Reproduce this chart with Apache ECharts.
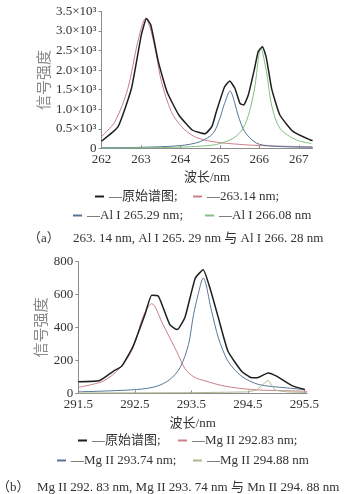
<!DOCTYPE html>
<html><head><meta charset="utf-8">
<script src="https://cdn.jsdelivr.net/npm/echarts@6/dist/echarts.min.js"></script>
<style>html,body{margin:0;padding:0;background:#fff}#c{width:355px;height:494px}</style>
</head><body><div id="c"></div>
<script>
// ---- (a) Al region ----
const xTicksA = [262, 263, 264, 265, 266, 267];
const yLabelsA = ['0', '0.5×10³', '1.0×10³', '1.5×10³', '2.0×10³', '2.5×10³', '3.0×10³', '3.5×10³'];
const namesA = ['原始谱图', '263.14 nm', 'Al I 265.29 nm', 'Al I 266.08 nm'];
const blackAx = [262.0, 262.42, 262.76, 263.01, 263.14, 263.25, 263.44, 263.66, 263.96, 264.3, 264.62, 264.8, 264.91, 265.12, 265.25, 265.38, 265.51, 265.6, 265.72, 265.88, 265.97, 266.08, 266.18, 266.31, 266.52, 266.86, 267.29, 267.35];
const blackAy = [180, 553, 1535, 2900, 3320, 3155, 2216, 1448, 852, 468, 370, 560, 936, 1576, 1720, 1535, 1151, 1108, 1364, 2047, 2472, 2600, 2303, 1535, 852, 425, 212, 200];
const redAx = [262.0, 262.34, 262.67, 262.92, 263.12, 263.26, 263.39, 263.52, 263.77, 264.03, 264.36, 264.83, 265.5, 266.0, 266.5, 267.0, 267.35];
const redAy = [300, 680, 1535, 2728, 3330, 2983, 2387, 1704, 936, 553, 297, 169, 100, 70, 55, 45, 40];
const blueAx = [262.0, 263.0, 264.0, 264.5, 264.83, 265.0, 265.12, 265.26, 265.38, 265.46, 265.63, 265.93, 266.3, 266.8, 267.35];
const blueAy = [15, 25, 70, 170, 385, 770, 1150, 1466, 1150, 850, 425, 130, 60, 35, 25];
const greenAx = [262.0, 263.0, 264.0, 264.5, 264.92, 265.34, 265.59, 265.75, 265.88, 266.04, 266.18, 266.31, 266.52, 266.94, 267.32];
const greenAy = [5, 12, 30, 55, 100, 256, 512, 936, 1535, 2558, 1960, 1108, 512, 212, 125];
const captionA = '263. 14 nm, Al I 265. 29 nm 与 Al I 266. 28 nm';

// ---- (b) Mg region ----
const xTicksB = [291.5, 292.5, 293.5, 294.5, 295.5];
const xLabelsB = ['291.5', '292.5', '293.5', '294.5', '295.5'];
const yLabelsB = ['0', '200', '400', '600', '800'];
const namesB = ['原始谱图', 'Mg II 292.83 nm', 'Mg II 293.74 nm', 'Mg II 294.88 nm'];
const blackBx = [291.5, 291.88, 292.12, 292.27, 292.47, 292.68, 292.8, 292.92, 293.12, 293.25, 293.39, 293.57, 293.71, 293.83, 293.98, 294.15, 294.39, 294.54, 294.66, 294.86, 295.01, 295.28, 295.51];
const blackBy = [71, 79, 135, 166, 287, 479, 596, 590, 418, 388, 465, 700, 751, 640, 459, 256, 135, 99, 95, 125, 105, 48, 24];
const redBx = [291.5, 291.94, 292.24, 292.47, 292.65, 292.8, 293.0, 293.24, 293.39, 293.55, 293.74, 294.1, 294.57, 295.0, 295.55];
const redBy = [38, 75, 156, 277, 470, 545, 418, 256, 150, 100, 77, 44, 24, 18, 14];
const blueBx = [291.5, 292.53, 292.89, 293.12, 293.3, 293.45, 293.54, 293.62, 293.71, 293.86, 293.98, 294.15, 294.39, 294.69, 295.16, 295.51];
const blueBy = [10, 24, 44, 85, 156, 297, 479, 600, 701, 499, 338, 196, 105, 55, 35, 24];
const greenBx = [291.5, 293.5, 294.5, 294.66, 294.86, 294.98, 295.2, 295.55];
const greenBy = [3, 5, 10, 22, 80, 22, 10, 6];
const captionB = 'Mg II 292. 83 nm, Mg II 293. 74 nm 与 Mn II 294. 88 nm';

const zip = (xs, ys) => xs.map((x, i) => [x, ys[i]]);
const FONT = "'Liberation Serif','Noto Sans CJK SC',serif";
const C = {black: '#1e1e1e', red: '#c97f88', blue: '#56769a', greenA: '#82bf82', greenB: '#a9b98f'};

function axisCommonX(gi, min, max, ticks, fmt, gap) {
  return {
    type: 'value', gridIndex: gi, min: min, max: max,
    name: '波长/nm', nameLocation: 'middle', nameGap: gap, nameMoveOverlap: false,
    nameTextStyle: {fontSize: 13, color: '#333', fontFamily: FONT},
    axisLine: {lineStyle: {color: '#8c8c8c', width: 1}},
    axisTick: {inside: true, length: 3, customValues: ticks, lineStyle: {color: '#8c8c8c'}},
    axisLabel: {customValues: ticks, formatter: fmt, margin: 5, fontSize: 13, color: '#333', fontFamily: FONT},
    splitLine: {show: false}
  };
}
function axisCommonY(gi, max, interval, labels, gap) {
  return {
    type: 'value', gridIndex: gi, min: 0, max: max, interval: interval,
    name: '信号强度', nameLocation: 'middle', nameRotate: 90, nameGap: gap, nameMoveOverlap: false,
    nameTextStyle: {fontSize: 15, color: '#8a8a8a', fontFamily: FONT},
    axisLine: {show: true, lineStyle: {color: '#8c8c8c', width: 1}},
    axisTick: {show: true, length: 3, lineStyle: {color: '#8c8c8c'}},
    axisLabel: {formatter: (v, i) => labels[Math.round(v / interval)], margin: 5, fontSize: 13, color: '#333', fontFamily: FONT},
    splitLine: {show: false}
  };
}
function line(name, xi, xs, ys, color, w, smooth, z) {
  return {type: 'line', name: name, xAxisIndex: xi, yAxisIndex: xi, data: zip(xs, ys),
    showSymbol: false, symbol: 'none', smooth: smooth, z: z,
    lineStyle: {color: color, width: w}, itemStyle: {color: color}};
}
function leg(name, left, cy, semi) {
  return {data: [name], left: left, top: cy - 7, padding: 0, icon: 'rect', itemWidth: 9, itemHeight: 2,
    selectedMode: false, formatter: '—{name}' + (semi ? ';' : ''),
    textStyle: {fontSize: 13, color: '#333', fontFamily: FONT}};
}

const option = {
  animation: false,
  textStyle: {fontFamily: FONT},
  grid: [
    {left: 101.5, top: 11.5, width: 211.1, height: 136.8},
    {left: 78.3, top: 261.7, width: 228.8, height: 131.8}
  ],
  xAxis: [
    axisCommonX(0, 262, 267.35, xTicksA, v => String(v), 23),
    axisCommonX(1, 291.5, 295.55, xTicksB, v => xLabelsB[xTicksB.indexOf(v)] || '', 24)
  ],
  yAxis: [
    axisCommonY(0, 3500, 500, yLabelsA, 49),
    axisCommonY(1, 800, 200, yLabelsB, 29)
  ],
  legend: [
    leg(namesA[0], 95, 197, true), leg(namesA[1], 193, 197, true),
    leg(namesA[2], 73, 216, true), leg(namesA[3], 205, 216, false),
    leg(namesB[0], 78, 441, true), leg(namesB[1], 178, 441, true),
    leg(namesB[2], 57, 461, true), leg(namesB[3], 193, 461, false)
  ],
  title: [
    {text: '（a）', left: 28, top: 232, padding: 0, textStyle: {fontSize: 13, fontWeight: 'normal', color: '#333', fontFamily: FONT}},
    {text: captionA, left: 73, top: 232, padding: 0, textStyle: {fontSize: 13, fontWeight: 'normal', color: '#333', fontFamily: FONT}},
    {text: '（b）', left: -3, top: 481, padding: 0, textStyle: {fontSize: 13, fontWeight: 'normal', color: '#333', fontFamily: FONT}},
    {text: captionB, left: 37, top: 481, padding: 0, textStyle: {fontSize: 13, fontWeight: 'normal', color: '#333', fontFamily: FONT}}
  ],
  series: [
    line(namesA[1], 0, redAx, redAy, C.red, 1, 0.3, 2),
    line(namesA[2], 0, blueAx, blueAy, C.blue, 1, 0.3, 2),
    line(namesA[3], 0, greenAx, greenAy, C.greenA, 1, 0.3, 2),
    line(namesA[0], 0, blackAx, blackAy, C.black, 1.5, 0.15, 3),
    line(namesB[1], 1, redBx, redBy, C.red, 1, 0.3, 2),
    line(namesB[2], 1, blueBx, blueBy, C.blue, 1, 0.3, 2),
    line(namesB[3], 1, greenBx, greenBy, C.greenB, 1, 0.1, 2),
    line(namesB[0], 1, blackBx, blackBy, C.black, 1.5, 0.15, 3)
  ]
};
const chart = echarts.init(document.getElementById('c'), null, {renderer: 'canvas'});
chart.setOption(option);
</script></body></html>
